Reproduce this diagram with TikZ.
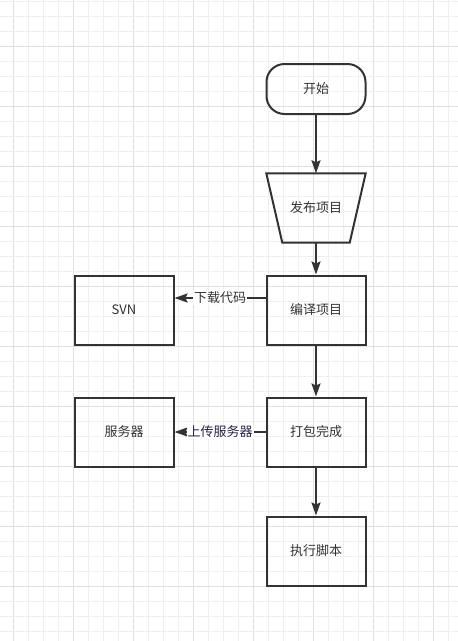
\documentclass[tikz,border=0pt]{standalone}
\usepackage{fontspec}
\setmainfont{Noto Sans CJK SC}
\usetikzlibrary{arrows.meta}
\definecolor{ink}{HTML}{333333}
\definecolor{gridminor}{HTML}{EFEFEF}
\definecolor{gridmajor}{HTML}{E0E0E0}
\definecolor{navy}{HTML}{22224A}
\tikzset{
  box/.style={draw=ink, line width=2pt, minimum width=99pt, minimum height=69pt, inner sep=0pt, text=ink, font=\fontsize{13pt}{15pt}\selectfont},
  plain/.style={minimum width=99pt, minimum height=69pt, inner sep=0pt, text=ink, font=\fontsize{13pt}{15pt}\selectfont},
  conn/.style={draw=ink, line width=2pt, -{Stealth[length=13pt,width=9pt,inset=2pt]}},
  lbl/.style={fill=white, inner sep=1pt, text=ink, font=\fontsize{13pt}{15pt}\selectfont},
}
\begin{document}
\begin{tikzpicture}[x=1pt,y=-1pt]
\useasboundingbox (0,0) rectangle (458,641);
\fill[white] (0,0) rectangle (458,641);
% grid
\foreach \k in {0,...,29}{
  \pgfmathtruncatemacro{\m}{mod(\k,4)}
  \ifnum\m=0
    \draw[gridmajor, line width=1pt] ({13.33+15*\k},0) -- ({13.33+15*\k},641);
  \else
    \draw[gridminor, line width=1pt] ({13.33+15*\k},0) -- ({13.33+15*\k},641);
  \fi
}
\foreach \k in {0,...,42}{
  \pgfmathtruncatemacro{\m}{mod(\k,4)}
  \ifnum\m=3
    \draw[gridmajor, line width=1pt] (0,{1+15*\k}) -- (458,{1+15*\k});
  \else
    \draw[gridminor, line width=1pt] (0,{1+15*\k}) -- (458,{1+15*\k});
  \fi
}
% nodes
\node[box, minimum height=50pt, rounded corners=18pt] (start) at (316,89) {开始};
\node[plain] (publish) at (316,208) {发布项目};
\draw[ink, line width=2pt, line join=miter] (publish.north west) -- (publish.north east) -- ([xshift=-16pt]publish.south east) -- ([xshift=16pt]publish.south west) -- cycle;
\node[box] (compile) at (316,310) {编译项目};
\node[box] (svn) at (124,310) {SVN};
\node[box] (pack) at (316,432) {打包完成};
\node[box] (server) at (124,432) {服务器};
\node[box] (script) at (316,551) {执行脚本};
% connectors
\draw[conn] (start) -- (publish);
\draw[conn] (publish) -- (compile);
\draw[conn] (compile) -- (pack);
\draw[conn] (pack) -- (script);
\draw[conn] (compile.west |- 0,298) -- node[lbl] {下载代码} (svn.east |- 0,298);
\draw[conn] (pack) -- node[lbl, text=navy] {上传服务器} (server);
\end{tikzpicture}
\end{document}
